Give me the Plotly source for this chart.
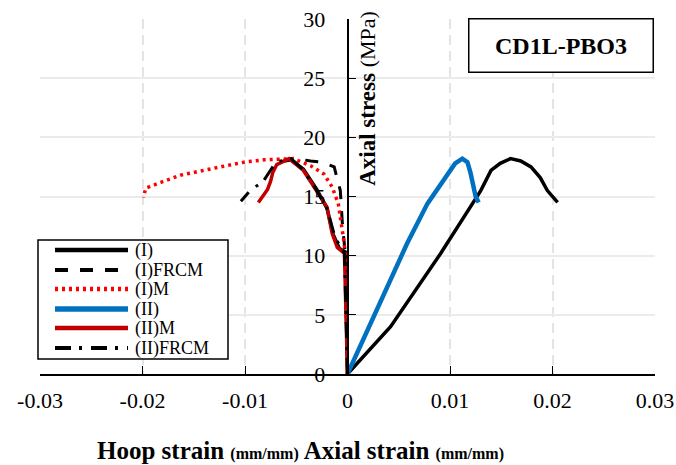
import plotly.graph_objects as go

# ---- data ----
# (I) axial branch
i_ax_x = [0, 0.0042, 0.0091, 0.0120, 0.0130, 0.0140, 0.0149, 0.0159, 0.0169, 0.0179, 0.0188, 0.0195, 0.0205]
i_ax_y = [0, 4.0, 10.2, 14.1, 15.5, 17.2, 17.8, 18.2, 18.0, 17.5, 16.6, 15.5, 14.5]
# (I) hoop branch
i_hp_x = [0, -0.0002, -0.0008, -0.0014, -0.0020, -0.0030, -0.0043, -0.0055, -0.0062]
i_hp_y = [0, 10.3, 10.6, 11.8, 14.0, 15.6, 17.3, 18.1, 18.0]
# (I)FRCM hoop
i_frcm_x = [0, -0.0002, -0.0005, -0.0007, -0.0013, -0.0025, -0.0036, -0.0050, -0.0062]
i_frcm_y = [0, 10.0, 12.7, 15.5, 17.5, 17.9, 18.0, 18.2, 18.1]
# (I)M hoop
i_m_x = [0, -0.0002, -0.0004, -0.0009, -0.0015, -0.0023, -0.0036, -0.0053, -0.0082, -0.0101,
         -0.0124, -0.0146, -0.0163, -0.0182, -0.0197, -0.0199]
i_m_y = [0, 10.0, 11.5, 14.4, 15.8, 16.9, 17.6, 18.2, 18.1, 17.9, 17.5, 17.1, 16.8, 16.2, 15.7, 14.9]
# (II) axial
ii_x = [0, 0.0025, 0.0054, 0.0058, 0.0078, 0.0097, 0.0105, 0.0112, 0.0117, 0.0120, 0.0122, 0.0125, 0.0128]
ii_y = [0, 4.8, 10.4, 11.0, 14.4, 16.9, 17.8, 18.2, 17.9, 17.0, 16.1, 15.0, 14.5]
# (II)M hoop
ii_m_x = [0, -0.0003, -0.0010, -0.0015, -0.0020, -0.0030, -0.0043, -0.0057, -0.0069, -0.0073,
          -0.0075, -0.0078, -0.0087]
ii_m_y = [0, 10.2, 10.7, 11.9, 14.1, 15.5, 17.2, 18.2, 17.7, 17.0, 16.3, 15.6, 14.5]
# (II)FRCM hoop
ii_frcm_x = [0, -0.0003, -0.0012, -0.0020, -0.0032, -0.0045, -0.0055, -0.0070, -0.0082, -0.0090, -0.0095, -0.0104]
ii_frcm_y = [0, 10.2, 11.5, 14.0, 15.8, 17.4, 18.2, 17.9, 16.3, 15.8, 15.5, 14.6]

series_names = ["(I)", "(I)FRCM", "(I)M", "(II)", "(II)M", "(II)FRCM"]
x_ticks = [-0.03, -0.02, -0.01, 0, 0.01, 0.02, 0.03]
x_tick_labels = ["-0.03", "-0.02", "-0.01", "0", "0.01", "0.02", "0.03"]
y_ticks = [0, 5, 10, 15, 20, 25, 30]

FONT = "Liberation Serif"

# styles: (color, width, dash)
styles = [
    ("black", 3.5, "solid"),
    ("black", 3, "13px,12px"),
    ("#FF0000", 3.5, "3px,4px"),
    ("#0070C0", 4.5, "solid"),
    ("#C00000", 3.5, "solid"),
    ("black", 3, "16px,8px,3px,9px"),
]
series_xy = [
    (i_ax_x + [None] + i_hp_x, i_ax_y + [None] + i_hp_y),
    (i_frcm_x, i_frcm_y),
    (i_m_x, i_m_y),
    (ii_x, ii_y),
    (ii_m_x, ii_m_y),
    (ii_frcm_x, ii_frcm_y),
]

fig = go.Figure()
for name, (xs, ys), (c, w, d) in zip(series_names, series_xy, styles):
    fig.add_trace(go.Scatter(x=xs, y=ys, mode="lines", name=name, showlegend=False,
                             connectgaps=False, line=dict(color=c, width=w, dash=d)))

# plot area spans page px x 40..655, y 19..374
fig.update_layout(
    width=676, height=465,
    margin=dict(l=40, r=21, t=19, b=91),
    paper_bgcolor="white", plot_bgcolor="white",
    font=dict(family=FONT, size=22, color="black"),
    showlegend=False,
    xaxis=dict(range=[-0.03, 0.03], tickvals=x_ticks, ticktext=x_tick_labels, automargin=False,
               showline=True, linecolor="black", linewidth=1.5, ticks="inside", ticklen=8,
               tickcolor="black", tickwidth=1.2, mirror=False, zeroline=False,
               showgrid=True, gridcolor="#E4E4E4", griddash="10px,6px", gridwidth=1.5,
               ticklabelstandoff=6, ticklabeloverflow="allow",
               tickfont=dict(family=FONT, size=22, color="black")),
    yaxis=dict(range=[0, 30], tickvals=y_ticks, anchor="free", position=0.5, side="left",
               automargin=False,
               showline=True, linecolor="black", linewidth=1.5, ticks="inside", ticklen=8,
               tickcolor="black", tickwidth=1.2, zeroline=False,
               showgrid=True, gridcolor="#EBEBEB", gridwidth=1.5,
               ticklabelstandoff=17, ticklabeloverflow="allow",
               tickfont=dict(family=FONT, size=22, color="black")),
)


def px_x(p):
    return (p - 40) / 615.0


def px_y(p):
    return (374 - p) / 355.0


# axis titles
fig.add_annotation(xref="x", yref="y", x=0, y=23.3, xshift=20, textangle=-90, showarrow=False,
                   text="<b>Axial stress</b> <span style='font-size:22px'>(MPa)</span>",
                   font=dict(family=FONT, size=23, color="black"))
fig.add_annotation(xref="paper", yref="paper", x=px_x(300), y=px_y(450), showarrow=False,
                   xanchor="center", yanchor="middle",
                   text="<b>Hoop strain </b><b><span style='font-size:16px'>(mm/mm)</span></b>"
                        "<b> Axial strain </b><b><span style='font-size:16px'>(mm/mm)</span></b>",
                   font=dict(family=FONT, size=25, color="black"))
# specimen label box
fig.add_annotation(xref="paper", yref="paper", x=px_x(561), y=px_y(45.5), showarrow=False,
                   xanchor="center", yanchor="middle", width=181, height=50,
                   bordercolor="black", borderwidth=1.5, bgcolor="white",
                   text="<b>CD1L-PBO3</b>", font=dict(family=FONT, size=24, color="black"))

# legend box (drawn like the original, with long line samples)
fig.add_shape(type="rect", xref="paper", yref="paper", layer="above",
              x0=px_x(38), x1=px_x(228), y0=px_y(359), y1=px_y(240),
              fillcolor="white", line=dict(color="black", width=1.5))
row_px = [250, 270, 289, 309, 328, 348]
for name, (c, w, d), ry in zip(series_names, styles, row_px):
    fig.add_shape(type="line", xref="paper", yref="paper", layer="above",
                  x0=px_x(55), x1=px_x(128), y0=px_y(ry), y1=px_y(ry),
                  line=dict(color=c, width=w + 1, dash=d))
    fig.add_annotation(xref="paper", yref="paper", x=px_x(133), y=px_y(ry), showarrow=False,
                       xanchor="left", yanchor="middle", text=name,
                       font=dict(family=FONT, size=18, color="black"))

fig.write_html("out.html", config={"displayModeBar": False},
               post_script="document.body.style.margin='0';document.body.style.overflow='hidden';")
